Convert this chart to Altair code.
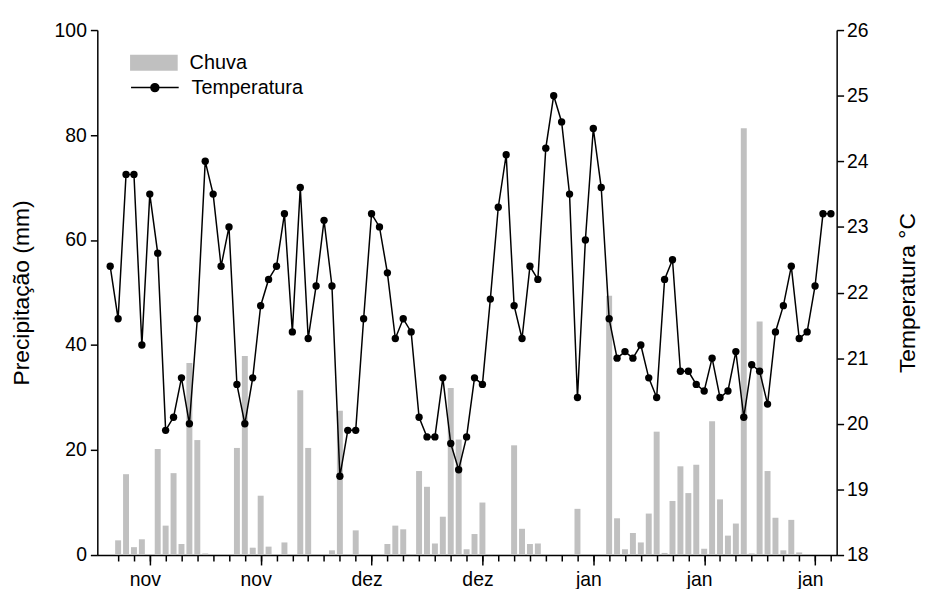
import altair as alt
import pandas as pd

# ---- data (1 Nov .. 31 Jan, 92 days) ----
dia = list(range(92))
chuva = [0, 2.8, 15.4, 1.5, 3.0, 0, 20.2, 5.6, 15.6, 2.1,
         36.6, 21.9, 0.3, 0, 0, 0, 20.4, 37.9, 1.4, 11.3,
         1.6, 0, 2.4, 0, 31.4, 20.4, 0, 0, 0.9, 27.5,
         0, 4.7, 0, 0, 0, 2.1, 5.6, 4.9, 0.2, 16.0,
         13.0, 2.2, 7.3, 31.8, 22.0, 1.1, 4.0, 10.0, 0.1, 0,
         0, 20.9, 5.0, 2.1, 2.2, 0.2, 0, 0, 0, 8.8,
         0, 0, 0, 49.4, 7.0, 1.1, 4.2, 2.4, 7.9, 23.5,
         0.4, 10.3, 16.9, 11.8, 17.2, 1.2, 25.5, 10.6, 3.7, 6.0,
         81.3, 0.3, 44.5, 16.0, 7.1, 0.9, 6.7, 0.5, 0, 0,
         0, 0]
temperatura = [22.4, 21.6, 23.8, 23.8, 21.2, 23.5, 22.6, 19.9, 20.1, 20.7,
               20.0, 21.6, 24.0, 23.5, 22.4, 23.0, 20.6, 20.0, 20.7, 21.8,
               22.2, 22.4, 23.2, 21.4, 23.6, 21.3, 22.1, 23.1, 22.1, 19.2,
               19.9, 19.9, 21.6, 23.2, 23.0, 22.3, 21.3, 21.6, 21.4, 20.1,
               19.8, 19.8, 20.7, 19.7, 19.3, 19.8, 20.7, 20.6, 21.9, 23.3,
               24.1, 21.8, 21.3, 22.4, 22.2, 24.2, 25.0, 24.6, 23.5, 20.4,
               22.8, 24.5, 23.6, 21.6, 21.0, 21.1, 21.0, 21.2, 20.7, 20.4,
               22.2, 22.5, 20.8, 20.8, 20.6, 20.5, 21.0, 20.4, 20.5, 21.1,
               20.1, 20.9, 20.8, 20.3, 21.4, 21.8, 22.4, 21.3, 21.4, 22.1,
               23.2, 23.2]
tick_days = [5, 19, 33, 47, 61, 75, 89]
tick_labels = ["nov", "nov", "dez", "dez", "jan", "jan", "jan"]
minor_days = list(range(1, 92, 2))
prec_ticks = [0, 20, 40, 60, 80, 100]
temp_ticks = [18, 19, 20, 21, 22, 23, 24, 25, 26]

df = pd.DataFrame({"dia": dia, "chuva": chuva, "temp": temperatura})

label_expr = " : ".join(
    f"datum.value == {d} ? '{l}'" for d, l in zip(tick_days, tick_labels)
) + " : ''"

FONT = "Liberation Sans"
TICKFS = 19.5
TITLEFS = 23
xscale = alt.Scale(domain=[-1, 91.1], nice=False, zero=False)

minor_axis = alt.Axis(values=minor_days, tickSize=6, labels=False, title=None,
                      orient="bottom", grid=False, domain=True,
                      domainColor="black", tickColor="black",
                      domainWidth=1.5, tickWidth=1.5)
major_axis = alt.Axis(values=tick_days, tickSize=10, labelExpr=label_expr,
                      orient="bottom", title=None, grid=False, domain=False,
                      tickColor="black", tickWidth=1.5, labelFontSize=TICKFS,
                      labelPadding=6, labelFont=FONT, labelColor="black",
                      labelOffset=-5)

bars = alt.Chart(df).transform_calculate(serie="'Chuva'").mark_bar(
    width=6
).encode(
    x=alt.X("dia:Q", scale=xscale, axis=minor_axis),
    y=alt.Y("chuva:Q", scale=alt.Scale(domain=[0, 100], nice=False),
            axis=alt.Axis(values=prec_ticks, title="Precipitação (mm)",
                          orient="left", grid=False, tickSize=7,
                          tickColor="black", domainColor="black",
                          domainWidth=1.5, tickWidth=1.5,
                          labelFontSize=TICKFS, labelFont=FONT,
                          labelColor="black", labelPadding=4,
                          titleFontSize=TITLEFS, titleFont=FONT,
                          titleFontWeight="normal", titleColor="black",
                          titlePadding=21)),
    fill=alt.Fill("serie:N",
                  scale=alt.Scale(domain=["Chuva"], range=["#c0c0c0"]),
                  legend=alt.Legend(title=None, orient="none", legendX=33,
                                    legendY=9, padding=0,
                                    symbolType="M-1,-0.333H1V0.333H-1Z",
                                    symbolSize=2304, symbolStrokeWidth=0,
                                    labelFontSize=20, labelFont=FONT,
                                    labelColor="black", labelOffset=12)),
)

temp_y = alt.Y("temp:Q", scale=alt.Scale(domain=[18, 26], nice=False, zero=False),
               axis=alt.Axis(values=temp_ticks, title="Temperatura °C",
                             orient="right", grid=False, tickSize=7,
                             tickColor="black", domainColor="black",
                             domainWidth=1.5, tickWidth=1.5,
                             labelFontSize=TICKFS, labelFont=FONT,
                             labelColor="black", labelPadding=3,
                             titleFontSize=TITLEFS, titleFont=FONT,
                             titleFontWeight="normal", titleColor="black",
                             titleAngle=270, titlePadding=52))

line_path = ("M-1,0H1M0.167,0A0.167,0.167,0,1,1,-0.167,0"
             "A0.167,0.167,0,1,1,0.167,0Z")

line = alt.Chart(df).transform_calculate(serie2="'Temperatura'").mark_line(
    strokeWidth=1.5
).encode(
    x=alt.X("dia:Q", scale=xscale, axis=major_axis),
    y=temp_y,
    stroke=alt.Stroke("serie2:N",
                      scale=alt.Scale(domain=["Temperatura"], range=["black"]),
                      legend=alt.Legend(title=None, orient="none", legendX=33,
                                        legendY=33, padding=0,
                                        symbolType=line_path, symbolSize=2304,
                                        symbolFillColor="black",
                                        symbolStrokeColor="black",
                                        symbolStrokeWidth=1.5,
                                        labelFontSize=20, labelFont=FONT,
                                        labelColor="black", labelOffset=12)),
)

points = alt.Chart(df).mark_circle(size=55, color="black", opacity=1).encode(
    x=alt.X("dia:Q", scale=xscale, axis=major_axis),
    y=temp_y,
)

temp_layer = alt.layer(line, points)

chart = alt.layer(bars, temp_layer).resolve_scale(
    y="independent"
).resolve_axis(
    x="independent"
).properties(
    width=745, height=529,
    autosize=alt.AutoSizeParams(type="none"),
    padding={"left": 90, "top": 20, "right": 86, "bottom": 32},
).configure_view(stroke=None)

chart.save("out.html", embed_options={"renderer": "svg", "actions": False})
